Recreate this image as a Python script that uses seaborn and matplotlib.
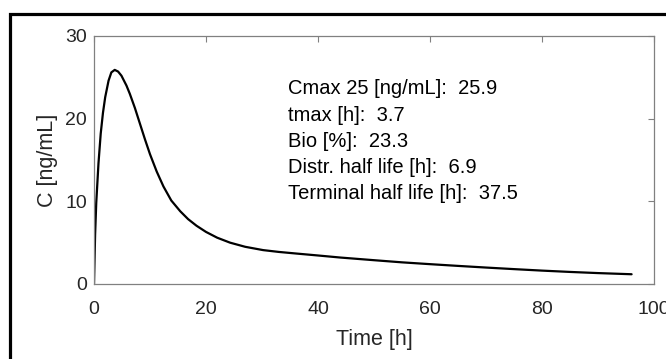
import matplotlib
matplotlib.use("Agg")
import matplotlib.pyplot as plt
import matplotlib.patches as mpatches
import seaborn as sns
import pandas as pd

# Data
time_h = [0, 0.2, 0.4, 0.8, 1.2, 1.6, 2.0, 2.6, 3.1, 3.7, 4.3, 4.9, 5.8, 6.4, 7.3,
          8.2, 9.1, 10.0, 11.2, 12.4, 13.8, 15.4, 16.8, 18.3, 20.0, 22.0, 24.3,
          27.0, 30.2, 33.0, 36.2, 40.0, 44.0, 50.0, 55.0, 60.0, 65.0, 70.0, 75.0,
          80.0, 85.0, 90.0, 96.0]
conc = [0, 6.0, 9.8, 14.6, 18.2, 20.7, 22.6, 24.6, 25.6, 25.9, 25.7, 25.2, 24.0,
        23.0, 21.3, 19.4, 17.5, 15.7, 13.6, 11.8, 10.1, 8.8, 7.85, 7.05, 6.3, 5.6,
        5.0, 4.5, 4.1, 3.88, 3.68, 3.45, 3.2, 2.88, 2.62, 2.4, 2.19, 1.99, 1.8, 1.62,
        1.46, 1.32, 1.18]

x_ticks = [0, 20, 40, 60, 80, 100]
y_ticks = [0, 10, 20, 30]

info_labels = ["Cmax 25 [ng/mL]", "tmax [h]", "Bio [%]", "Distr. half life [h]",
               "Terminal half life [h]"]
info_values = ["25.9", "3.7", "23.3", "6.9", "37.5"]

sns.set_style("white")
plt.rcParams["font.family"] = ["Liberation Sans", "DejaVu Sans"]

fig = plt.figure(figsize=(6.66, 3.59), dpi=100)
ax = fig.add_axes([94 / 666, 75 / 359, 560 / 666, 248 / 359])

df = pd.DataFrame({"Time [h]": time_h, "C [ng/mL]": conc})
sns.lineplot(data=df, x="Time [h]", y="C [ng/mL]", ax=ax, color="black",
             linewidth=1.6, estimator=None, sort=False)

ax.set_xlim(0, 100)
ax.set_ylim(0, 30)
ax.set_xticks(x_ticks)
ax.set_yticks(y_ticks)
ax.set_xlabel("Time [h]", fontsize=15.5, color="#262626", labelpad=7.5)
ax.set_ylabel("C [ng/mL]", fontsize=15.5, color="#262626", labelpad=5)

axis_color = "#808080"
for sp in ax.spines.values():
    sp.set_visible(True)
    sp.set_color(axis_color)
    sp.set_linewidth(0.9)
ax.tick_params(direction="in", length=4.5, width=0.8, color=axis_color,
               top=True, right=True, labelsize=14, labelcolor="#262626")
ax.tick_params(axis="x", pad=12.5)
ax.tick_params(axis="y", pad=5)

text = "\n".join(f"{l}:  {v}" for l, v in zip(info_labels, info_values))
ax.text(34.6, 24.75, text, fontsize=14.5, color="black", va="top",
        ha="left", linespacing=1.48)

# Figure border (extends beyond the right and bottom edges)
rect = mpatches.Rectangle((10.5 / 666, -0.2), 1.2, 0.2 + (1 - 13.5 / 359),
                          transform=fig.transFigure, fill=False,
                          edgecolor="black", linewidth=2.3, clip_on=False)
fig.patches.append(rect)

fig.savefig("out.png", dpi=100)
